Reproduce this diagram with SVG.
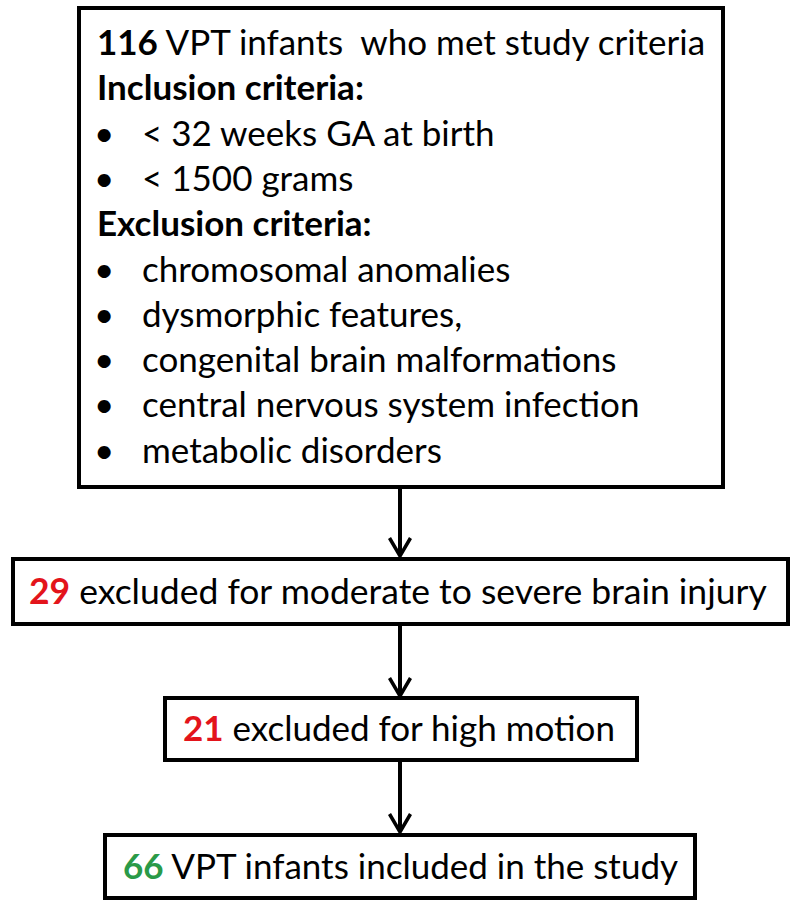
<svg xmlns="http://www.w3.org/2000/svg" width="800" height="909" viewBox="0 0 800 909">
<defs>
<style>
.box{fill:#fff;stroke:#000;stroke-width:4}
.t{font-family:Lato,"Liberation Sans",sans-serif;font-size:35px;fill:#000}
.bul{font-family:Lato,"Liberation Sans",sans-serif;font-size:35px;fill:#000}
.b{font-weight:bold}
.red{fill:#e3141b;font-weight:bold}
.grn{fill:#2a9a48;font-weight:bold}
.edge{stroke:#000;stroke-width:4;fill:none}
</style>
<marker id="arr" viewBox="0 0 24 24" refX="21" refY="12" markerWidth="24" markerHeight="24" markerUnits="userSpaceOnUse" orient="auto">
<path d="M3,1.5 L21,12 L3,22.5" fill="none" stroke="#000" stroke-width="3.5"/>
</marker>
</defs>
<rect width="800" height="909" fill="#fff"/>
<g id="connectors">
<path class="edge" d="M400,488 V556" marker-end="url(#arr)"/>
<path class="edge" d="M400,625 V696" marker-end="url(#arr)"/>
<path class="edge" d="M400,760 V832" marker-end="url(#arr)"/>
</g>
<g id="criteria">
<rect class="box" x="79" y="8" width="644" height="479"/>
<text class="t" x="97" y="55" xml:space="preserve"><tspan class="b">116</tspan> VPT infants  who met study criteria</text>
<text class="t b" x="97" y="100">Inclusion criteria:</text>
<text class="bul" x="94" y="146">•</text><text class="t" x="142" y="146">&lt; 32 weeks GA at birth</text>
<text class="bul" x="94" y="191">•</text><text class="t" x="142" y="191">&lt; 1500 grams</text>
<text class="t b" x="97" y="236">Exclusion criteria:</text>
<text class="bul" x="94" y="282">•</text><text class="t" x="142" y="282">chromosomal anomalies</text>
<text class="bul" x="94" y="327">•</text><text class="t" x="142" y="327">dysmorphic features,</text>
<text class="bul" x="94" y="372">•</text><text class="t" x="142" y="372">congenital brain malformations</text>
<text class="bul" x="94" y="417">•</text><text class="t" x="142" y="417">central nervous system infection</text>
<text class="bul" x="94" y="463">•</text><text class="t" x="142" y="463">metabolic disorders</text>
</g>
<g id="brain-injury">
<rect class="box" x="13" y="559" width="775" height="65"/>
<text class="t" x="29" y="604" style="font-size:35.5px"><tspan class="red">29</tspan> excluded for moderate to severe brain injury</text>
</g>
<g id="high-motion">
<rect class="box" x="165" y="698" width="472" height="62"/>
<text class="t" x="183" y="741"><tspan class="red">21</tspan> excluded for high motion</text>
</g>
<g id="included">
<rect class="box" x="105" y="835" width="590" height="63"/>
<text class="t" x="123" y="879"><tspan class="grn">66</tspan> VPT infants included in the study</text>
</g>
</svg>
